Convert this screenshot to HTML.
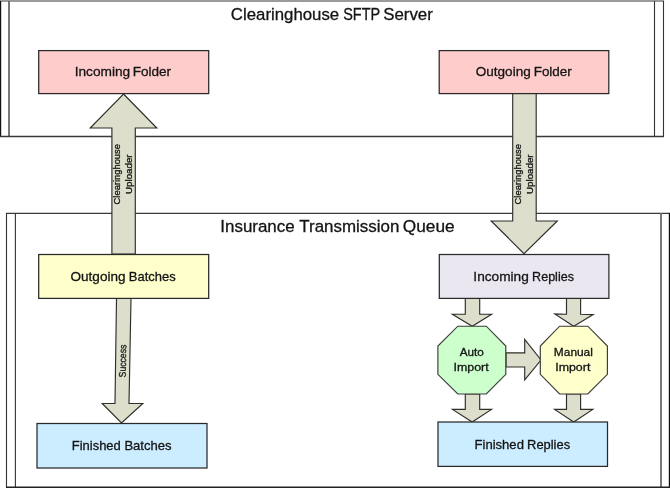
<!DOCTYPE html>
<html><head><meta charset="utf-8">
<style>
html,body{margin:0;padding:0;background:#fff;}
body{width:670px;height:488px;overflow:hidden;}
svg{display:block;}
text{font-family:"Liberation Sans",sans-serif;fill:#141414;stroke:#141414;stroke-width:0.3;}
.b{stroke:#2a2a2a;stroke-width:1.25;}
.o{stroke:#3a3a3a;stroke-width:1.15;}
.a{fill:#dddfcc;stroke:#2e2e2a;stroke-width:1.15;stroke-linejoin:miter;}
</style></head><body>
<svg width="670" height="488" viewBox="0 0 670 488">
<rect width="670" height="488" fill="#fff"/>
<!-- top frame -->
<g fill="none">
<line x1="0" y1="1.0" x2="664" y2="1.0" stroke="#7a7a7a" stroke-width="1.3"/>
<line x1="0.5" y1="1" x2="0.5" y2="137" stroke="#111" stroke-width="1.4"/>
<line x1="9" y1="1" x2="9" y2="137" stroke="#6a6a6a" stroke-width="1.8"/>
<line x1="0" y1="136.5" x2="664" y2="136.5" stroke="#3a3a3a" stroke-width="1.3"/>
<line x1="654.5" y1="1" x2="654.5" y2="137" stroke="#333" stroke-width="1.1"/>
<line x1="663.5" y1="1" x2="663.5" y2="137" stroke="#333" stroke-width="1.1"/>
</g>
<!-- bottom frame -->
<g fill="none">
<line x1="6" y1="213.4" x2="670" y2="213.4" stroke="#3a3a3a" stroke-width="1.3"/>
<line x1="6.5" y1="213" x2="6.5" y2="488" stroke="#333" stroke-width="1.1"/>
<line x1="15.4" y1="213" x2="15.4" y2="488" stroke="#333" stroke-width="1.1"/>
<line x1="661" y1="213" x2="661" y2="488" stroke="#6a6a6a" stroke-width="1.8"/>
<line x1="669.5" y1="213" x2="669.5" y2="488" stroke="#111" stroke-width="1.4"/>
<line x1="6" y1="487.2" x2="670" y2="487.2" stroke="#222" stroke-width="1.6"/>
</g>
<!-- arrows -->
<polygon class="a" points="123.5,94 156.8,128 135.3,128 135.3,254 111.9,254 111.9,128 90.2,128"/>
<polygon class="a" points="512.7,93.5 536.2,93.5 536.2,221 557.3,221 524,253.6 491.2,221 512.7,221"/>
<polygon class="a" points="116.5,298.5 131,298.5 129,403.5 142.8,403.5 121.5,423 102.2,403.5 115,403.5"/>
<polygon class="a" points="465.3,298.5 479.7,298.5 479.7,314.2 491.6,314.2 472.2,326.3 452.4,314.2 465.3,314.2"/>
<polygon class="a" points="566.5,298.5 580.6,298.5 580.6,314.2 593.2,314.6 573.7,326.3 554.8,313.9 566.5,314.2"/>
<polygon class="a" points="465.3,394 479.7,394 479.7,409.4 491.5,409.4 472.2,422 452.5,409.4 465.3,409.4"/>
<polygon class="a" points="566.5,394 580.6,394 580.6,409.4 592.8,409.4 573.7,422 554.6,409.4 566.5,409.4"/>
<polygon class="a" points="506,352.8 524.7,352.8 524.7,339.3 541,360 524.7,379.9 524.7,367 506,367"/>
<!-- boxes -->
<rect class="b" x="38.7" y="50.6" width="170" height="43" fill="#ffcccc"/>
<rect class="b" x="439.2" y="50.6" width="169.6" height="43" fill="#ffcccc"/>
<rect class="b" x="38.7" y="254.5" width="170" height="43.9" fill="#ffffcc"/>
<rect class="b" x="439.3" y="254.5" width="169.6" height="43.9" fill="#eae7f1"/>
<rect class="b" x="37" y="423.5" width="170" height="44.5" fill="#ccecff"/>
<rect class="b" x="438" y="422" width="169.5" height="44.4" fill="#ccecff"/>
<!-- octagons -->
<polygon class="o" fill="#ccffcc" points="457.8,326.2 486.3,326.2 505.8,346 505.8,374.3 486.3,394 457.8,394 437.9,374.3 437.9,346"/>
<polygon class="o" fill="#ffffcc" points="559.6,326.2 587.8,326.2 607.4,346 607.4,374.3 587.8,394 559.6,394 540.3,374.3 540.3,346"/>

<defs><filter id="idf" x="0" y="0" width="670" height="488" filterUnits="userSpaceOnUse" color-interpolation-filters="sRGB"><feOffset dx="0" dy="0"/></filter></defs>
<g filter="url(#idf)">
<text x="230.85" y="19.80" font-size="16.7" textLength="108.30" lengthAdjust="spacingAndGlyphs">Clearinghouse</text>
<text x="343.15" y="19.80" font-size="16.7" textLength="37.00" lengthAdjust="spacingAndGlyphs">SFTP</text>
<text x="383.20" y="19.80" font-size="16.7" textLength="49.60" lengthAdjust="spacingAndGlyphs">Server</text>
<text x="220.30" y="231.80" font-size="16.7" textLength="74.40" lengthAdjust="spacingAndGlyphs">Insurance</text>
<text x="299.35" y="231.80" font-size="16.7" textLength="100.05" lengthAdjust="spacingAndGlyphs">Transmission</text>
<text x="402.75" y="231.80" font-size="16.7" textLength="51.85" lengthAdjust="spacingAndGlyphs">Queue</text>
<text x="74.65" y="76.00" font-size="13.3" textLength="55.60" lengthAdjust="spacingAndGlyphs">Incoming</text>
<text x="132.70" y="76.00" font-size="13.3" textLength="38.40" lengthAdjust="spacingAndGlyphs">Folder</text>
<text x="475.75" y="76.00" font-size="13.3" textLength="54.95" lengthAdjust="spacingAndGlyphs">Outgoing</text>
<text x="533.70" y="76.00" font-size="13.3" textLength="38.10" lengthAdjust="spacingAndGlyphs">Folder</text>
<text x="70.55" y="280.60" font-size="13.3" textLength="54.95" lengthAdjust="spacingAndGlyphs">Outgoing</text>
<text x="128.80" y="280.60" font-size="13.3" textLength="46.85" lengthAdjust="spacingAndGlyphs">Batches</text>
<text x="473.35" y="280.60" font-size="13.3" textLength="55.45" lengthAdjust="spacingAndGlyphs">Incoming</text>
<text x="532.10" y="280.60" font-size="13.3" textLength="41.85" lengthAdjust="spacingAndGlyphs">Replies</text>
<text x="71.80" y="449.70" font-size="13.3" textLength="48.95" lengthAdjust="spacingAndGlyphs">Finished</text>
<text x="124.40" y="449.70" font-size="13.3" textLength="47.15" lengthAdjust="spacingAndGlyphs">Batches</text>
<text x="474.50" y="448.70" font-size="13.3" textLength="49.40" lengthAdjust="spacingAndGlyphs">Finished</text>
<text x="527.10" y="448.70" font-size="13.3" textLength="43.00" lengthAdjust="spacingAndGlyphs">Replies</text>
<text stroke-width="0.12" x="459.75" y="356.30" font-size="11.1" textLength="24.15" lengthAdjust="spacingAndGlyphs">Auto</text>
<text stroke-width="0.12" x="453.60" y="371.00" font-size="11.1" textLength="35.10" lengthAdjust="spacingAndGlyphs">Import</text>
<text stroke-width="0.12" x="553.85" y="356.30" font-size="11.1" textLength="39.05" lengthAdjust="spacingAndGlyphs">Manual</text>
<text stroke-width="0.12" x="555.20" y="371.00" font-size="11.1" textLength="35.15" lengthAdjust="spacingAndGlyphs">Import</text>
<text stroke-width="0.1" transform="translate(120.10,204.40) rotate(-90)" font-size="9.0" textLength="60.35" lengthAdjust="spacingAndGlyphs">Clearinghouse</text>
<text stroke-width="0.1" transform="translate(131.80,193.95) rotate(-90)" font-size="9.0" textLength="39.50" lengthAdjust="spacingAndGlyphs">Uploader</text>
<text stroke-width="0.1" transform="translate(520.90,204.40) rotate(-90)" font-size="9.0" textLength="60.35" lengthAdjust="spacingAndGlyphs">Clearinghouse</text>
<text stroke-width="0.1" transform="translate(532.80,193.95) rotate(-90)" font-size="9.0" textLength="39.50" lengthAdjust="spacingAndGlyphs">Uploader</text>
<text stroke-width="0.1" transform="translate(125.70,377.40) rotate(-89.05)" font-size="9.8" textLength="32.75" lengthAdjust="spacingAndGlyphs">Success</text>
</g>
</svg>
</body></html>
